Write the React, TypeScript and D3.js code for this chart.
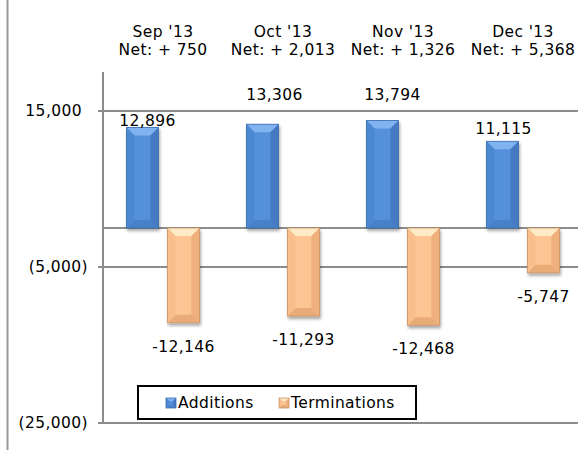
import React from "react";
import * as d3 from "d3";

const categories = ["Sep '13", "Oct '13", "Nov '13", "Dec '13"];
const additions = [12896, 13306, 13794, 11115];
const terminations = [-12146, -11293, -12468, -5747];
const seriesNames = ["Additions", "Terminations"];
const yTicks = [15000, -5000, -25000];

// manual label nudges for the Additions data labels (as moved in the source chart)
const addLabelDx = [5, 12, 10, 1];
const addLabelDy = [-1, -24, -20, -7];

const W = 578;
const H = 450;
const FONT = "DejaVu Sans, Verdana, sans-serif";
const FS = 15.5;
const LS = 0.4;

const locale = d3.formatLocale({ decimal: ".", thousands: ",", grouping: [3], currency: ["$", ""], minus: "-" });
const fmt = locale.format(",");
const tickFmt = (d: number) => (d < 0 ? `(${fmt(-d)})` : fmt(d));

const palette = {
  Additions: { main: "#5590DA", top: "#80B3F0", left: "#4D88D2", right: "#4479C1", bottom: "#4A81C8", stroke: "#3E6EAE" },
  Terminations: { main: "#FCC593", top: "#FFEAC6", left: "#F8BE8B", right: "#EEB17D", bottom: "#E9AB77", stroke: "#C99468" },
};

function BevelRect({ x, y, w, h, c, b, shadow }: any) {
  const bb = Math.min(b, h / 2, w / 2);
  const pts = (arr: number[][]) => arr.map((p) => p.join(",")).join(" ");
  return (
    <g filter={shadow ? "url(#shadow)" : undefined}>
      <rect x={x} y={y} width={w} height={h} fill={c.main} />
      <polygon points={pts([[x, y], [x + w, y], [x + w - bb, y + bb], [x + bb, y + bb]])} fill={c.top} />
      <polygon points={pts([[x, y + h], [x + w, y + h], [x + w - bb, y + h - bb], [x + bb, y + h - bb]])} fill={c.bottom} />
      <polygon points={pts([[x, y], [x + bb, y + bb], [x + bb, y + h - bb], [x, y + h]])} fill={c.left} />
      <polygon points={pts([[x + w, y], [x + w - bb, y + bb], [x + w - bb, y + h - bb], [x + w, y + h]])} fill={c.right} />
      <rect x={x} y={y} width={w} height={h} fill="none" stroke={c.stroke} strokeWidth={0.8} />
    </g>
  );
}

export default function App() {
  const plotLeft = 103;
  const x0 = d3.scaleBand<string>().domain(categories).range([plotLeft, plotLeft + 480]);
  const x1 = d3.scaleBand<string>().domain(seriesNames).range([23.5, 96.5]).paddingInner(0.2195);
  const y = d3.scaleLinear().domain([-25000, 20000]).range([423, 72]);
  const net = additions.map((a, i) => a + terminations[i]);
  const gridColor = "#8C8C8C";

  return (
    <svg width={W} height={H} style={{ position: "absolute", left: 0, top: 0, background: "#fff" }} fontFamily={FONT} letterSpacing={LS}>
      <defs>
        <filter id="shadow" x="-30%" y="-10%" width="160%" height="130%">
          <feDropShadow dx="1" dy="2.5" stdDeviation="1.8" floodColor="#000" floodOpacity="0.35" />
        </filter>
      </defs>
      <rect width={W} height={H} fill="#fff" />
      {/* left frame line */}
      <line x1={7.5} x2={7.5} y1={0} y2={H} stroke="#9A9A9A" strokeWidth={2} />

      {/* gridlines */}
      {yTicks.map((t) => (
        <line key={t} x1={plotLeft - 5} x2={W} y1={y(t)} y2={y(t)} stroke={gridColor} strokeWidth={2} />
      ))}
      {/* zero line (category axis) */}
      <line x1={plotLeft} x2={W} y1={y(0)} y2={y(0)} stroke={gridColor} strokeWidth={2} />
      {/* value axis */}
      <line x1={plotLeft} x2={plotLeft} y1={y(20000)} y2={y(-25000)} stroke={gridColor} strokeWidth={2} />

      {/* tick labels */}
      {yTicks.map((t) => (
        <text key={t} x={88} dx={t < 0 ? 0 : -6} y={y(t)} dominantBaseline="central" textAnchor="end" fontSize={FS} fill="#000">
          {tickFmt(t)}
        </text>
      ))}

      {/* category header labels */}
      {categories.map((c, i) => {
        const cx = (x0(c) as number) + x0.bandwidth() / 2;
        return (
          <g key={c}>
            <text x={cx} y={37} textAnchor="middle" fontSize={FS} fill="#000">{c}</text>
            <text x={cx} y={55} textAnchor="middle" fontSize={FS} fill="#000">{`Net: + ${fmt(net[i])}`}</text>
          </g>
        );
      })}

      {/* bars */}
      {categories.map((c, i) => {
        const bx = x0(c) as number;
        const ax = bx + (x1("Additions") as number);
        const tx = bx + (x1("Terminations") as number);
        const bw = x1.bandwidth();
        const aTop = y(additions[i]);
        const tBot = y(terminations[i]);
        return (
          <g key={c}>
            <BevelRect x={ax} y={aTop} w={bw} h={y(0) - aTop} c={palette.Additions} b={8} shadow />
            <BevelRect x={tx} y={y(0)} w={bw} h={tBot - y(0)} c={palette.Terminations} b={8} shadow />
          </g>
        );
      })}

      {/* data labels */}
      {categories.map((c, i) => {
        const bx = x0(c) as number;
        const bw = x1.bandwidth();
        const acx = bx + (x1("Additions") as number) + bw / 2;
        const tcx = bx + (x1("Terminations") as number) + bw / 2;
        return (
          <g key={c}>
            <text x={acx + addLabelDx[i]} y={y(additions[i]) + addLabelDy[i]} textAnchor="middle" fontSize={FS} fill="#000">
              {fmt(additions[i])}
            </text>
            <text x={tcx} y={y(terminations[i]) + 29} textAnchor="middle" fontSize={FS} fill="#000">
              {fmt(terminations[i])}
            </text>
          </g>
        );
      })}

      {/* legend */}
      <g>
        <rect x={138} y={386} width={278} height={33} fill="#fff" stroke="#000" strokeWidth={2} />
        {seriesNames.map((s, i) => {
          const lx = i === 0 ? 166 : 279;
          const c = (palette as any)[s];
          return (
            <g key={s}>
              <BevelRect x={lx} y={398} w={10} h={10} c={c} b={3} />
              <text x={lx + 12} y={403} dominantBaseline="central" fontSize={FS} fill="#000">{s}</text>
            </g>
          );
        })}
      </g>
    </svg>
  );
}
